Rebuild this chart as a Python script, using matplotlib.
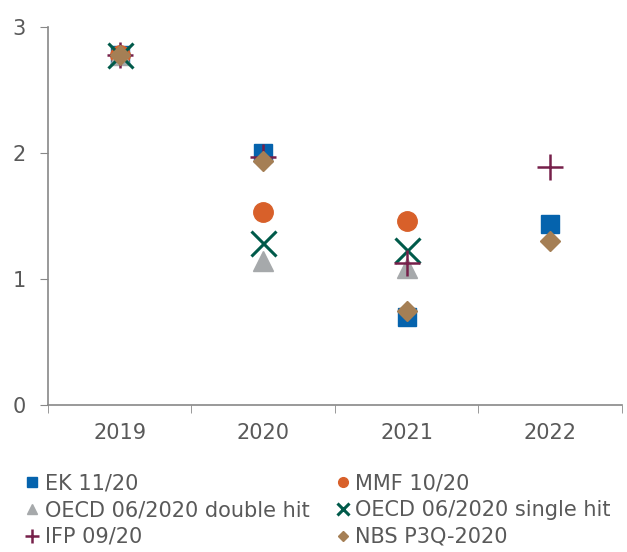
import numpy as np
import matplotlib.pyplot as plt
from matplotlib.ticker import FixedLocator

years = ['2019', '2020', '2021', '2022']
ek = [2.78, 2.00, 0.70, 1.44]
mmf = [2.78, 1.53, 1.46, np.nan]
oecd_double = [2.78, 1.14, 1.09, np.nan]
oecd_single = [2.78, 1.29, 1.23, np.nan]
ifp = [2.78, 1.97, 1.13, 1.89]
nbs = [2.78, 1.94, 0.75, 1.30]

grey = '#595959'
plt.rcParams['font.family'] = ['DejaVu Sans']

fig = plt.figure(figsize=(6.27, 5.52), dpi=100)
ax = fig.add_axes([0.0766, 0.266, 0.915, 0.685])

x = np.arange(len(years))
h_ek, = ax.plot(x, ek, ls='none', marker='s', ms=13, color='#0563ad', label='EK 11/20')
h_mmf, = ax.plot(x, mmf, ls='none', marker='o', ms=14, color='#d8602a', label='MMF 10/20')
h_od, = ax.plot(x, oecd_double, ls='none', marker='^', ms=14, color='#a6a9ab', label='OECD 06/2020 double hit')
h_os, = ax.plot(x, oecd_single, ls='none', marker='x', ms=18, mew=2.2, color='#005a4a', label='OECD 06/2020 single hit')
h_ifp, = ax.plot(x, ifp, ls='none', marker='+', ms=19, mew=1.8, color='#76204a', label='IFP 09/20')
h_nbs, = ax.plot(x, nbs, ls='none', marker='D', ms=10, color='#a57f55', label='NBS P3Q-2020')

ax.set_xlim(-0.5, 3.5)
ax.set_ylim(0, 3)
ax.set_yticks([0, 1, 2, 3])
ax.set_xticks(x)
ax.set_xticklabels(years)
ax.xaxis.set_minor_locator(FixedLocator([-0.5, 0.5, 1.5, 2.5, 3.5]))
ax.tick_params(axis='x', which='major', length=0, pad=13, labelsize=15, labelcolor=grey)
ax.tick_params(axis='x', which='minor', length=6, color='#888888', direction='out')
ax.tick_params(axis='y', length=6, color='#888888', labelsize=15, labelcolor=grey, pad=10)
for s in ['top', 'right']:
    ax.spines[s].set_visible(False)
for s in ['left', 'bottom']:
    ax.spines[s].set_color('#888888')
    ax.spines[s].set_linewidth(1.2)

handles = [h_ek, h_od, h_ifp, h_mmf, h_os, h_nbs]
fig.legend(handles=handles, labels=[h.get_label() for h in handles],
           loc='lower left', bbox_to_anchor=(0.028, -0.006), ncol=2, frameon=False,
           fontsize=15, labelcolor=grey, markerscale=0.5, handlelength=0.6,
           handletextpad=0.3, columnspacing=1.3, labelspacing=0.33, borderaxespad=0)

fig.savefig('out.png', dpi=100)
